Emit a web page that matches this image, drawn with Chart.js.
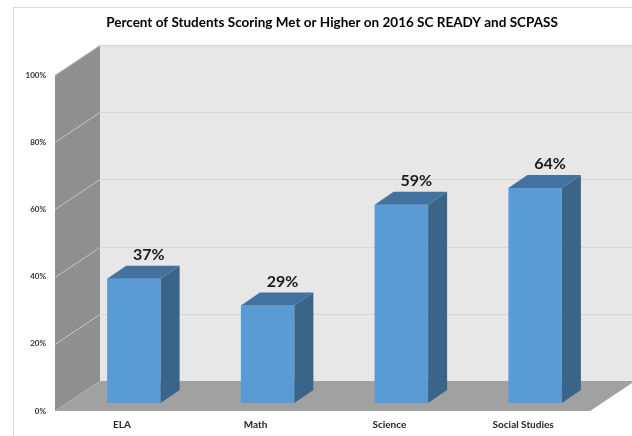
<!DOCTYPE html>
<html>
<head>
<meta charset="utf-8">
<script src="https://cdn.jsdelivr.net/npm/chart.js@4.4.1/dist/chart.umd.min.js"></script>
<style>
  html, body { margin: 0; padding: 0; background: #fff; }
  .wrap { position: relative; width: 632px; height: 436px; }
</style>
</head>
<body>
<div class="wrap"><canvas id="scoresChart"></canvas></div>
<script>
const chartTitle = 'Percent of Students Scoring Met or Higher on 2016 SC READY and SCPASS';
const subjects = ['ELA', 'Math', 'Science', 'Social Studies'];
const percentMet = [37, 29, 59, 64];
const yMin = 0;
const yMax = 100;
const yStep = 20;

const fontFamily = 'Lato, "Open Sans", sans-serif';

// 3d look: depth of the walls/floor, where the bars stand, and bar depth
const wallDx = 45, wallDy = -30;
const shiftX = 12, shiftY = -8;
const barDx = 19, barDy = -13;

function poly(ctx, pts, fill) {
    ctx.beginPath();
    ctx.moveTo(pts[0][0], pts[0][1]);
    for (let i = 1; i < pts.length; i++) ctx.lineTo(pts[i][0], pts[i][1]);
    ctx.closePath();
    ctx.fillStyle = fill;
    ctx.fill();
}

function line(ctx, x1, y1, x2, y2, color) {
    ctx.beginPath();
    ctx.moveTo(x1, y1);
    ctx.lineTo(x2, y2);
    ctx.strokeStyle = color;
    ctx.lineWidth = 1;
    ctx.stroke();
}

const box3d = {
    id: 'box3d',
    beforeDraw(chart) {
        const ctx = chart.ctx;
        ctx.save();
        ctx.fillStyle = '#fff';
        ctx.fillRect(0, 0, chart.width, chart.height);
        ctx.strokeStyle = '#dadada';
        ctx.lineWidth = 1;
        ctx.strokeRect(13.5, 7.5, chart.width, chart.height);

        ctx.fillStyle = '#000';
        ctx.font = 'bold 13.5px ' + fontFamily;
        ctx.textAlign = 'center';
        ctx.textBaseline = 'alphabetic';
        ctx.fillText(chartTitle, 332, 27);
        ctx.restore();
    },
    beforeDatasetsDraw(chart) {
        const { ctx, chartArea: a, scales: { y } } = chart;
        const L = a.left, R = a.right, T = a.top, B = a.bottom;
        ctx.save();
        // back wall
        ctx.fillStyle = '#e7e7e7';
        ctx.fillRect(L + wallDx, T + wallDy, R - L + 10, B - T);
        // left wall
        poly(ctx, [[L, T], [L + wallDx, T + wallDy], [L + wallDx, B + wallDy], [L, B]], '#8f8f8f');
        // floor
        poly(ctx, [[L, B], [L + wallDx, B + wallDy], [R + wallDx, B + wallDy], [R, B]], '#a1a1a1');
        // gridlines
        for (let v = yMin + yStep; v <= yMax; v += yStep) {
            const py = Math.round(y.getPixelForValue(v)) + 0.5;
            line(ctx, L + wallDx, py + wallDy, R + wallDx + 10, py + wallDy, '#d4d4d4');
            line(ctx, L, py, L + wallDx, py + wallDy, '#c6c6c6');
        }
        ctx.restore();
    },
    beforeDatasetDraw(chart) {
        chart.ctx.save();
        chart.ctx.translate(shiftX, shiftY);
    },
    afterDatasetDraw(chart, args) {
        const ctx = chart.ctx;
        args.meta.data.forEach((bar, i) => {
            const { x, y, base, width } = bar.getProps(['x', 'y', 'base', 'width'], true);
            const l = x - width / 2, r = x + width / 2;
            poly(ctx, [[r, y], [r + barDx, y + barDy], [r + barDx, base + barDy], [r, base]], '#3b6489');
            poly(ctx, [[l, y], [l + barDx, y + barDy], [r + barDx, y + barDy], [r, y]], '#42729f');

            ctx.fillStyle = '#1a1a1a';
            ctx.font = 'bold 16px ' + fontFamily;
            ctx.textAlign = 'center';
            ctx.textBaseline = 'alphabetic';
            ctx.fillText(percentMet[i] + '%', x + 15, y - 19);
        });
        ctx.restore();
    }
};

new Chart(document.getElementById('scoresChart'), {
    type: 'bar',
    data: {
        labels: subjects,
        datasets: [{
            data: percentMet,
            backgroundColor: '#5b9bd5',
            borderWidth: 0,
            barPercentage: 0.4,
            categoryPercentage: 1,
            clip: false
        }]
    },
    options: {
        responsive: true,
        maintainAspectRatio: false,
        animation: false,
        events: [],
        layout: { padding: { top: 75, right: 42, bottom: 5, left: 0 } },
        plugins: {
            legend: { display: false },
            title: { display: false },
            tooltip: { enabled: false }
        },
        scales: {
            x: {
                grid: { display: false, drawTicks: false },
                border: { display: false },
                afterFit: scale => { scale.height = 20; },
                ticks: {
                    color: '#262626',
                    padding: 8,
                    font: { family: fontFamily, size: 10, weight: 'bold' }
                }
            },
            y: {
                min: yMin,
                max: yMax,
                grid: { display: false, drawTicks: false },
                border: { display: false },
                afterFit: scale => { scale.width = 55; },
                ticks: {
                    stepSize: yStep,
                    color: '#333333',
                    padding: 9,
                    font: { family: fontFamily, size: 8, weight: 'bold' },
                    callback: v => v + '%'
                }
            }
        }
    },
    plugins: [box3d]
});
</script>
</body>
</html>
